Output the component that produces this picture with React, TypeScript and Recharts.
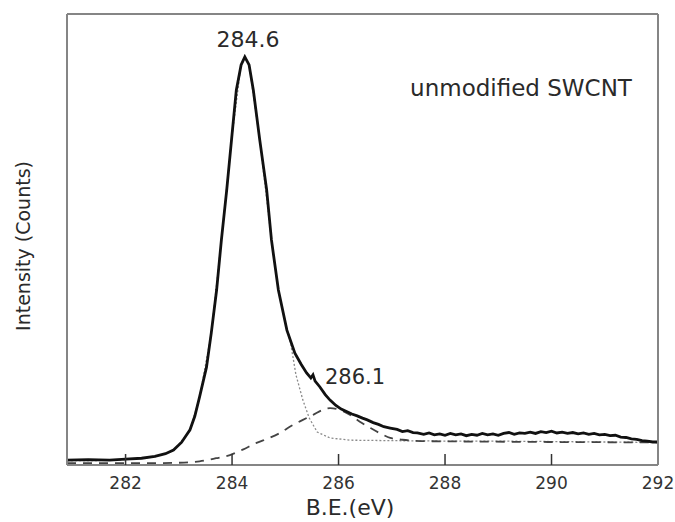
import React from 'react';
import { LineChart, Line, XAxis, YAxis } from 'recharts';

// Measured spectrum (binding energy in eV, intensity in arbitrary units)
const mainBE = [
  280.9, 281.3, 281.7, 282.0, 282.3, 282.55, 282.75, 282.9, 283.05, 283.21,
  283.3, 283.39, 283.52, 283.61, 283.71, 283.8, 283.9, 283.99, 284.08, 284.17,
  284.24, 284.32, 284.4, 284.52, 284.65, 284.74, 284.87, 285.03, 285.18, 285.3,
  285.4, 285.48, 285.52, 285.56, 285.65, 285.75, 285.84, 285.95, 286.05, 286.16,
  286.25, 286.35, 286.45, 286.54, 286.65, 286.75, 286.85, 286.97, 287.1, 287.2,
  287.3, 287.4, 287.48, 287.6, 287.7, 287.8, 287.9, 288.0, 288.1, 288.2,
  288.3, 288.4, 288.5, 288.6, 288.7, 288.8, 288.9, 289.0, 289.1, 289.2,
  289.3, 289.4, 289.5, 289.6, 289.7, 289.8, 289.9, 290.0, 290.1, 290.2,
  290.3, 290.4, 290.5, 290.6, 290.7, 290.8, 290.9, 291.0, 291.1, 291.2,
  291.3, 291.4, 291.5, 291.6, 291.7, 291.8, 291.9, 292.0,
];
const mainCounts = [
  1.1, 1.2, 1.1, 1.3, 1.5, 1.9, 2.5, 3.3, 5.0, 7.8,
  10.8, 15.1, 21.7, 29.3, 38.8, 49.9, 61.0, 72.1, 83.1, 88.7,
  90.5, 88.7, 83.1, 72.1, 61.0, 49.9, 38.8, 29.9, 24.8, 22.3,
  20.4, 19.3, 20.0, 18.6, 17.3, 15.6, 14.4, 13.2, 12.4, 11.8,
  11.3, 10.9, 10.4, 10.0, 9.4, 9.0, 8.5, 8.2, 7.9, 7.4,
  7.6, 7.2, 7.1, 6.8, 7.1, 6.7, 6.9, 6.6, 7.0, 6.7,
  6.9, 6.5, 6.8, 6.6, 7.0, 6.7, 6.9, 6.6, 7.0, 7.2,
  6.8, 7.1, 7.0, 7.3, 7.0, 7.4, 7.2, 7.5, 7.1, 7.3,
  7.0, 7.2, 6.9, 7.1, 6.8, 7.0, 6.7, 6.8, 6.5, 6.6,
  6.2, 6.1, 5.8, 5.7, 5.4, 5.3, 5.1, 5.1,
];

// Fitted component 1 (C=C, 284.6 eV) incl. background
const fit1BE = [
  280.9, 281.5, 282.0, 282.55, 282.9, 283.21, 283.39, 283.61, 283.8, 283.99,
  284.17, 284.24, 284.32, 284.52, 284.74, 284.87, 285.03, 285.1, 285.2, 285.33,
  285.45, 285.6, 285.84, 286.22, 287.0, 288.0, 289.0, 290.0, 291.0, 292.0,
];
const fit1Counts = [
  1.0, 1.0, 1.2, 1.8, 3.2, 7.6, 15.0, 29.2, 49.9, 72.1,
  88.7, 90.5, 88.7, 72.1, 49.9, 38.8, 29.9, 27.0, 20.0, 14.4,
  10.4, 7.3, 6.0, 5.5, 5.4, 5.3, 5.3, 5.2, 5.1, 5.0,
];

// Fitted component 2 (286.1 eV) incl. background
const fit2BE = [
  280.9, 282.45, 283.0, 283.39, 283.7, 283.96, 284.2, 284.46, 284.7, 284.9,
  285.1, 285.33, 285.52, 285.7, 285.84, 286.0, 286.22, 286.4, 286.6, 286.8,
  286.97, 287.2, 287.54, 288.5, 290.0, 292.0,
];
const fit2Counts = [
  0.4, 0.4, 0.5, 0.8, 1.5, 2.2, 3.4, 4.9, 6.0, 7.1,
  8.6, 10.0, 11.1, 12.2, 12.6, 12.3, 11.1, 9.6, 8.2, 6.9,
  6.0, 5.6, 5.3, 5.2, 5.1, 5.0,
];

const xTicks = [282, 284, 286, 288, 290, 292];
const xDomain = [280.9, 292];
const yDomain = [0, 100];
const peakLabel1 = '284.6';
const peakLabel2 = '286.1';
const sampleName = 'unmodified SWCNT';
const xTitle = 'B.E.(eV)';
const yTitle = 'Intensity (Counts)';

const toRows = (xs: number[], ys: number[]) => xs.map((x, i) => ({ be: x, counts: ys[i] }));
const mainData = toRows(mainBE, mainCounts);
const fit1Data = toRows(fit1BE, fit1Counts);
const fit2Data = toRows(fit2BE, fit2Counts);

const FONT = '"DejaVu Sans", sans-serif';
const FRAME = '#858585';

const overlay = (left: number, top: number, size: number, extra: React.CSSProperties = {}): React.CSSProperties => ({
  position: 'absolute',
  left,
  top,
  transform: 'translate(-50%, -50%)',
  fontFamily: FONT,
  fontSize: size,
  lineHeight: 1,
  color: '#2a2a2a',
  whiteSpace: 'nowrap',
  ...extra,
});

export default function App() {
  return (
    <div style={{ position: 'absolute', left: 0, top: 0, width: 675, height: 522, background: '#fff' }}>
      <LineChart width={675} height={522} margin={{ top: 13, right: 16, bottom: 0, left: 66 }}>
        <XAxis
          xAxisId="b"
          dataKey="be"
          type="number"
          domain={xDomain}
          ticks={xTicks}
          allowDataOverflow
          height={57}
          tickSize={-11}
          tickMargin={23}
          axisLine={{ stroke: FRAME, strokeWidth: 2 }}
          tickLine={{ stroke: '#333', strokeWidth: 1.5 }}
          tick={{ fontSize: 17, fill: '#333', fontFamily: FONT }}
        />
        <XAxis
          xAxisId="t"
          orientation="top"
          dataKey="be"
          type="number"
          domain={xDomain}
          allowDataOverflow
          height={1}
          tick={false}
          tickLine={false}
          axisLine={{ stroke: FRAME, strokeWidth: 2 }}
        />
        <YAxis
          yAxisId="l"
          type="number"
          domain={yDomain}
          allowDataOverflow
          width={1}
          tick={false}
          tickLine={false}
          axisLine={{ stroke: FRAME, strokeWidth: 2 }}
        />
        <YAxis
          yAxisId="r"
          orientation="right"
          type="number"
          domain={yDomain}
          allowDataOverflow
          width={1}
          tick={false}
          tickLine={false}
          axisLine={{ stroke: FRAME, strokeWidth: 2 }}
        />
        <Line
          xAxisId="b"
          yAxisId="l"
          data={fit1Data}
          dataKey="counts"
          type="linear"
          stroke="#8a8a8a"
          strokeWidth={1.3}
          strokeDasharray="2 2"
          dot={false}
          isAnimationActive={false}
        />
        <Line
          xAxisId="b"
          yAxisId="l"
          data={fit2Data}
          dataKey="counts"
          type="monotone"
          stroke="#444"
          strokeWidth={1.8}
          strokeDasharray="9 7"
          dot={false}
          isAnimationActive={false}
        />
        <Line
          xAxisId="b"
          yAxisId="l"
          data={mainData}
          dataKey="counts"
          type="linear"
          stroke="#111"
          strokeWidth={2.8}
          dot={false}
          isAnimationActive={false}
        />
      </LineChart>
      <div style={overlay(248, 40, 22)}>{peakLabel1}</div>
      <div style={overlay(355, 377, 21)}>{peakLabel2}</div>
      <div style={overlay(521, 88, 23)}>{sampleName}</div>
      <div style={overlay(350, 508, 22)}>{xTitle}</div>
      <div style={overlay(23, 246, 19, { transform: 'translate(-50%, -50%) rotate(-90deg)' })}>{yTitle}</div>
    </div>
  );
}
